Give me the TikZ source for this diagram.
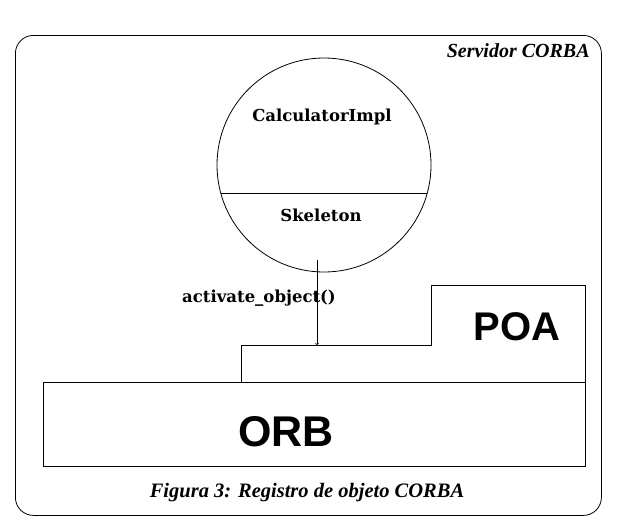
\documentclass[tikz,border=0pt]{standalone}
\usepackage{fontspec}
\setmainfont{Liberation Serif}
\newfontfamily\hel{Liberation Sans}
\newfontfamily\dvs{DejaVu Serif}
\begin{document}
\begin{tikzpicture}[x=1pt,y=-1pt,line width=0.8pt,
  lbl/.style={font=\dvs\bfseries\fontsize{16.5}{20}\selectfont,inner sep=0}]
\useasboundingbox (0,0) rectangle (644,530);
\node[draw,rounded corners=18pt,minimum width=586pt,minimum height=480pt,anchor=north west] (frame) at (15,35) {};
\node[anchor=north east,inner sep=0,font=\bfseries\itshape\fontsize{20}{22}\selectfont] (srv) at (590,43) {Servidor CORBA};
\node[draw,circle,minimum size=214pt,inner sep=0] (c) at (324,165) {};
\draw (c.center) ++(-103,28) coordinate (hl) -- ++(206,0) coordinate (hr);
\node[lbl] (impl) at (322,117) {CalculatorImpl};
\node[lbl] (skel) at (321,215) {Skeleton};
\node[draw,minimum width=542pt,minimum height=84pt,anchor=north west,inner sep=0] (orb) at (43,382) {};
\node[font=\hel\bfseries\fontsize{43}{50}\selectfont,inner sep=0] (orbt) at (286,432) {ORB};
\draw (241,382) -- (241,345) -- (431,345) -- (431,285) -- (585,285) -- (585,382);
\node[font=\hel\bfseries\fontsize{40}{44}\selectfont,inner sep=0] (poa) at (517,327) {POA};
\coordinate (ah) at (317,345);
\coordinate (as) at (317,260);
\draw[->,line width=0.6pt] (as) -- (ah);
\node[lbl] (act) at (259,298) {activate\_object()};
\node[font=\bfseries\itshape\fontsize{20.5}{22}\selectfont,inner sep=0] (cap) at (307,493) {Figura 3: Registro de objeto CORBA};
\end{tikzpicture}
\end{document}
